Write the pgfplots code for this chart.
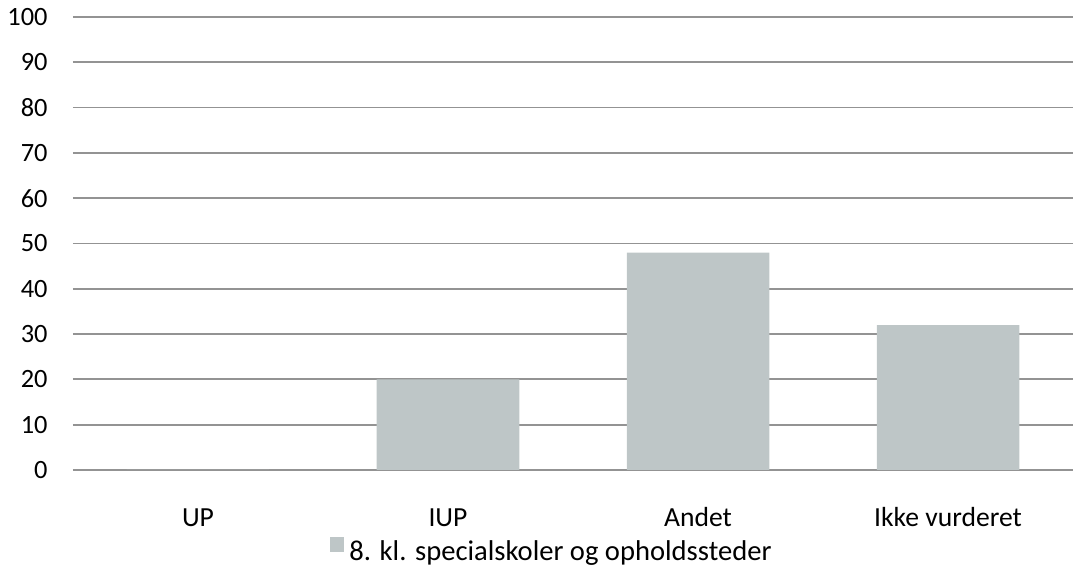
\documentclass[border=0pt]{standalone}
\usepackage{pgfplots}
\pgfplotsset{compat=1.18}
\usepackage{fontspec}
\setmainfont{Carlito}
\usetikzlibrary{calc}
\definecolor{barcol}{HTML}{BEC6C7}
\definecolor{gridcol}{HTML}{939393}
\begin{document}
\begin{tikzpicture}
\begin{axis}[
  scale only axis,
  width=500pt, height=226.5pt,
  xmin=-0.5, xmax=3.5,
  ymin=0, ymax=100,
  ytick={0,10,...,100},
  xtick={0,1,2,3},
  xticklabels={UP,IUP,Andet,Ikke vurderet},
  ymajorgrids,
  grid style={gridcol, line width=0.9pt},
  axis line style={draw=none},
  major tick length=0pt,
  /pgf/number format/assume math mode=true,
  yticklabel style={font=\fontsize{13.2pt}{15pt}\selectfont, anchor=east, inner sep=0pt, xshift=-12.5pt},
  xticklabel style={font=\fontsize{13.8pt}{16pt}\selectfont, anchor=base, inner sep=0pt, yshift=-28.5pt},
  ybar, bar width=0.57,
  legend style={at={(0.257,-0.177)}, anchor=west, draw=none, inner sep=0pt,
    nodes={inner sep=0pt}, column sep=2.5pt,
    font=\fontsize{14.3pt}{17pt}\selectfont,
    legend cell align=left},
  legend image code/.code={\fill[barcol] (0pt,0pt) rectangle (7pt,7.5pt);},
  clip=false,
]
\addplot[fill=barcol, draw=none] coordinates {(0,0) (1,20) (2,48) (3,32)};
\addlegendentry{8. kl. specialskoler og opholdssteder}
\end{axis}
\pgfresetboundingbox
\path[use as bounding box] ($(current axis.south west)+(-36.5pt,-51.5pt)$) rectangle ($(current axis.north east)+(0pt,8.5pt)$);
\end{tikzpicture}
\end{document}
